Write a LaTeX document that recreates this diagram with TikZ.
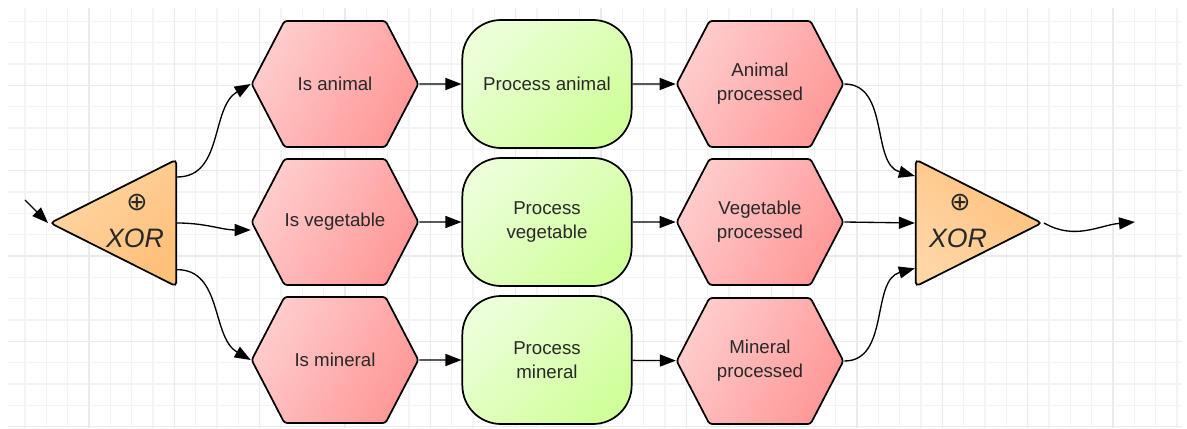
\documentclass[tikz,border=0pt]{standalone}
\usepackage{fontspec}
\setmainfont{Liberation Sans}
\newfontfamily\symfont{DejaVu Sans}
\usetikzlibrary{shapes.geometric, shapes.symbols, arrows.meta}

\definecolor{hexlight}{RGB}{255,204,204}
\definecolor{hexdark}{RGB}{255,152,152}
\definecolor{proclight}{RGB}{236,255,216}
\definecolor{procdark}{RGB}{208,255,155}
\definecolor{xorlight}{RGB}{255,214,166}
\definecolor{xordark}{RGB}{255,192,122}
\definecolor{gridminor}{RGB}{243,243,243}
\definecolor{gridmajor}{RGB}{234,234,234}
\definecolor{ink}{RGB}{40,40,40}

\begin{document}
\begin{tikzpicture}[
  x=0.75pt, y=-0.75pt,
  cond/.style={signal, signal to=west and east, signal pointer angle=125,
               draw, line width=1.3pt, rounded corners=2pt, inner sep=0pt,
               minimum width=125pt, minimum height=94.5pt, align=center,
               text=ink, font=\fontsize{14}{18}\selectfont,
               top color=hexlight, bottom color=hexdark, shading angle=60},
  proc/.style={rectangle, draw, line width=1.3pt, rounded corners=29pt,
               minimum width=127pt, minimum height=96pt, align=center,
               text=ink, font=\fontsize{14}{18}\selectfont,
               top color=proclight, bottom color=procdark, shading angle=45},
  xor/.style={isosceles triangle, isosceles triangle stretches, draw,
              line width=1.3pt, rounded corners=3pt, inner sep=0pt,
              minimum width=95pt, minimum height=94.5pt},
  xorsym/.style={font=\symfont\fontsize{19}{22}\selectfont, text=ink, inner sep=0pt},
  xorlbl/.style={font=\fontsize{20}{24}\selectfont\itshape, text=ink, inner sep=0pt},
  arr/.style={-{Triangle[length=12pt,width=9pt]}, line width=1pt, black},
  gridline/.style={gridminor, line width=1.1pt},
  gridbold/.style={gridmajor, line width=1.1pt}
]
\useasboundingbox (0,0) rectangle (1187,428);
\fill[white] (0,0) rectangle (1187,428);

% background grid
\foreach \i in {0,...,54}
  \draw[gridline] ({25+21.333*\i},8) -- ({25+21.333*\i},428);
\foreach \j in {1,...,20}
  \draw[gridline] (8,{21.333*\j}) -- (1182,{21.333*\j});
\foreach \i in {0,...,12}
  \draw[gridbold] ({89+85.333*\i},8) -- ({89+85.333*\i},428);
\foreach \j in {1,...,5}
  \draw[gridbold] (8,{85.333*\j}) -- (1182,{85.333*\j});

% split and join
\node[xor, shape border rotate=180, anchor=apex,
      top color=xordark, bottom color=xorlight, shading angle=-135] (xsplit) at (48,223) {};
\node[xorsym] (xsplitsym) at (137,203) {⊕};
\node[xorlbl] (xsplitlbl) at (135,238) {XOR};

\node[xor, anchor=apex,
      top color=xordark, bottom color=xorlight, shading angle=-45] (xjoin) at (1044,223) {};
\node[xorsym] (xjoinsym) at (960,203) {⊕};
\node[xorlbl] (xjoinlbl) at (958,238) {XOR};

% the three branches
\node[cond] (isanimal) at (335,84) {Is animal};
\node[cond] (isveg) at (335,222) {Is vegetable};
\node[cond] (ismin) at (335,360) {Is mineral};

\node[proc] (panimal) at (547,84) {Process animal};
\node[proc] (pveg) at (547,222) {Process\\vegetable};
\node[proc] (pmin) at (547,360) {Process\\mineral};

\node[cond] (doneanimal) at (760,84) {Animal\\processed};
\node[cond] (doneveg) at (760,222) {Vegetable\\processed};
\node[cond] (donemin) at (760,361) {Mineral\\processed};

\coordinate (src) at (25,200);
\coordinate (sink) at (1135,222);

\draw[arr] (src) -- (xsplit.apex);
\draw[arr] ([yshift=34.5pt]xsplit.lower side) to[out=0, in=210] (isanimal.west);
\draw[arr] (xsplit.lower side) to[out=0, in=180] ([yshift=-6pt]isveg.west);
\draw[arr] ([yshift=-35pt]xsplit.lower side) to[out=0, in=150] (ismin.west);

\draw[arr] (isanimal) -- (panimal);
\draw[arr] (isveg) -- (pveg);
\draw[arr] (ismin) -- (pmin);
\draw[arr] (panimal) -- (doneanimal);
\draw[arr] (pveg) -- (doneveg);
\draw[arr] (pmin) -- (donemin);

\draw[arr] (doneanimal.east) to[out=0, in=165] ([yshift=35.25pt]xjoin.lower side);
\draw[arr] (doneveg.east) -- (xjoin.lower side);
\draw[arr] (donemin.east) to[out=0, in=195] ([yshift=-34pt]xjoin.lower side);
\draw[arr] (xjoin.apex) to[out=-30, in=185] (sink);
\end{tikzpicture}
\end{document}
